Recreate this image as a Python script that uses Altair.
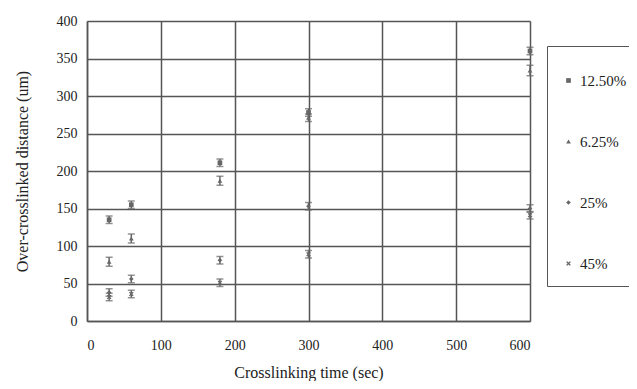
import altair as alt
import pandas as pd

times = [30, 60, 180, 300, 600]
series_names = ["12.50%", "6.25%", "25%", "45%"]
vals_1250 = [135, 155, 211, 278, 360]
vals_625 = [79, 110, 187, 271, 334]
vals_25 = [38, 56, 81, 153, 150]
vals_45 = [32, 36, 51, 89, 141]
err_1250 = [5, 5, 5, 5, 5]
err_625 = [6, 6, 6, 5, 7]
err_25 = [5, 5, 5, 5, 5]
err_45 = [5, 5, 5, 5, 5]
x_ticks = [0, 100, 200, 300, 400, 500, 600]
y_ticks = [0, 50, 100, 150, 200, 250, 300, 350, 400]

rows = []
for name, vals, errs in zip(series_names,
                            [vals_1250, vals_625, vals_25, vals_45],
                            [err_1250, err_625, err_25, err_45]):
    for t, v, e in zip(times, vals, errs):
        rows.append({"series": name, "time": t, "value": v, "lo": v - e, "hi": v + e})
df = pd.DataFrame(rows)

FONT = "Liberation Serif"
GRID = "#555555"
MARK = "#666666"
xpath = "M-1,-0.6L-0.6,-1L0,-0.4L0.6,-1L1,-0.6L0.4,0L1,0.6L0.6,1L0,0.4L-0.6,1L-1,0.6L-0.4,0Z"

xscale = alt.Scale(domain=[0, 600], nice=False)
yscale = alt.Scale(domain=[0, 400], nice=False)
xaxis = alt.Axis(values=x_ticks, title="Crosslinking time (sec)",
                 grid=True, gridColor=GRID, gridWidth=1.5, gridOpacity=1,
                 domainColor=GRID, domainWidth=1.5, ticks=False, labelOverlap=False,
                 labelFont=FONT, labelFontSize=14, labelColor="#222", labelPadding=17,
                 titleFont=FONT, titleFontSize=16, titleFontWeight="normal", titleColor="#222",
                 titlePadding=12)
yaxis = alt.Axis(values=y_ticks,
                 title="Over-crosslinked distance (um)",
                 grid=True, gridColor=GRID, gridWidth=1.5, gridOpacity=1,
                 domainColor=GRID, domainWidth=1.5, ticks=False, labelOverlap=False,
                 labelFont=FONT, labelFontSize=14, labelColor="#222", labelPadding=10,
                 titleFont=FONT, titleFontSize=16, titleFontWeight="normal", titleColor="#222",
                 titlePadding=26)

base = alt.Chart(df)
X = alt.X("time:Q", scale=xscale, axis=xaxis)

rules = base.mark_rule(color=MARK, strokeWidth=1.5).encode(
    x=X,
    y=alt.Y("lo:Q", scale=yscale, axis=yaxis),
    y2="hi:Q",
)
cap_lo = base.mark_tick(color=MARK, orient="horizontal", size=7, thickness=1.5).encode(
    x=X, y=alt.Y("lo:Q", scale=yscale, axis=yaxis))
cap_hi = base.mark_tick(color=MARK, orient="horizontal", size=7, thickness=1.5).encode(
    x=X, y=alt.Y("hi:Q", scale=yscale, axis=yaxis))

points = base.mark_point(filled=True, opacity=1, color=MARK, size=22).encode(
    x=X,
    y=alt.Y("value:Q", scale=yscale, axis=yaxis),
    shape=alt.Shape("series:N",
                    scale=alt.Scale(domain=series_names,
                                    range=["square", "triangle-up", "diamond", xpath]),
                    legend=alt.Legend(title=" ", titleFontSize=8, titlePadding=5,
                                      orient="none", legendX=460, legendY=25,
                                      strokeColor=GRID, padding=14,
                                      rowPadding=45, symbolSize=22, symbolFillColor=MARK,
                                      symbolStrokeColor=MARK,
                                      labelFont=FONT, labelFontSize=15, labelColor="#222",
                                      labelOffset=4, labelLimit=200)),
)

chart = alt.layer(rules, cap_lo, cap_hi, points).properties(
    width=443, height=300,
    autosize=alt.AutoSizeParams(type="none"),
    padding={"left": 79, "top": 13, "right": 99, "bottom": 60},
).configure_view(stroke=GRID, strokeWidth=1.5).configure(background="white")

chart.save("out.html", embed_options={"renderer": "svg", "actions": False})
